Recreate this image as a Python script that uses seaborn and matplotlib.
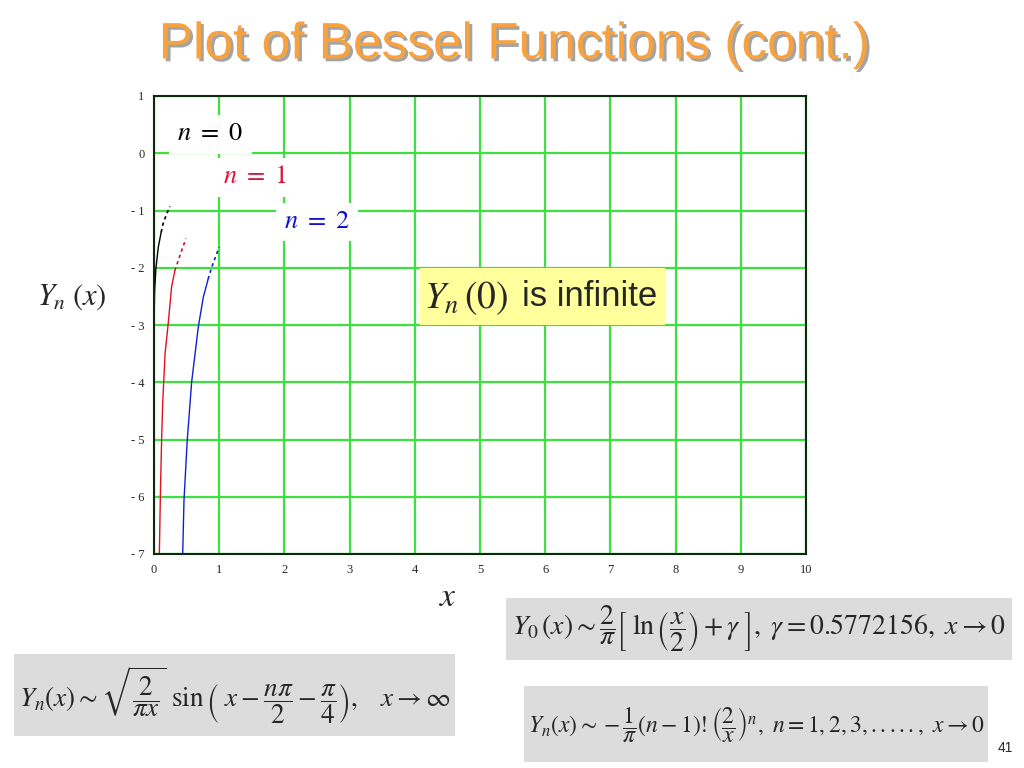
import numpy as np
import pandas as pd
import matplotlib
matplotlib.use("Agg")
import matplotlib.pyplot as plt
import matplotlib.patheffects as pe
from matplotlib.patches import Rectangle
import seaborn as sns

# values
y0_x = [0.0, 0.0, 0.003, 0.01, 0.03, 0.066, 0.11]
y0_y = [-7.0, -3.0, -2.8, -2.4, -2.0, -1.64, -1.38]
y0_tail_x = [0.11, 0.14, 0.19, 0.245]
y0_tail_y = [-1.38, -1.23, -1.07, -0.93]

y1_x = [0.082, 0.10, 0.118, 0.133, 0.17, 0.22, 0.27, 0.32]
y1_y = [-7.0, -5.83, -4.95, -4.37, -3.5, -2.95, -2.33, -2.05]
y1_tail_x = [0.32, 0.373, 0.43, 0.49]
y1_tail_y = [-2.05, -1.87, -1.68, -1.49]

y2_x = [0.44, 0.46, 0.51, 0.578, 0.68, 0.757, 0.83]
y2_y = [-7.0, -6.06, -5.01, -3.99, -3.03, -2.51, -2.2]
y2_tail_x = [0.83, 0.885, 0.94, 1.0]
y2_tail_y = [-2.2, -1.99, -1.82, -1.64]

x_ticks = [0, 1, 2, 3, 4, 5, 6, 7, 8, 9, 10]
y_ticks = [1, 0, -1, -2, -3, -4, -5, -6, -7]
y_tick_labels = ["1", "0", "- 1", "- 2", "- 3", "- 4", "- 5", "- 6", "- 7"]

sns.set_style("white")
plt.rcParams["mathtext.fontset"] = "stix"
plt.rcParams["font.family"] = ["Liberation Serif", "DejaVu Serif"]

fig = plt.figure(figsize=(10.24, 7.68), dpi=100)
ax = fig.add_axes([154 / 1024, 1 - 554 / 768, 652 / 1024, 458 / 768])

series = [
    (y0_x, y0_y, y0_tail_x, y0_tail_y, "black"),
    (y1_x, y1_y, y1_tail_x, y1_tail_y, "#e01020"),
    (y2_x, y2_y, y2_tail_x, y2_tail_y, "#1020d0"),
]
for xs, ys, tx, ty, col in series:
    df = pd.DataFrame({"x": xs, "y": ys})
    sns.lineplot(data=df, x="x", y="y", ax=ax, color=col, lw=1.0,
                 sort=False, estimator=None)
    dft = pd.DataFrame({"x": tx, "y": ty})
    sns.lineplot(data=dft, x="x", y="y", ax=ax, color=col, lw=1.2,
                 sort=False, estimator=None, linestyle=(0, (2, 2)))

ax.set_xlim(0, 10)
ax.set_ylim(-7, 1)
ax.set_xticks(x_ticks)
ax.set_xticklabels([str(t) for t in x_ticks])
ax.set_yticks(y_ticks)
ax.set_yticklabels(y_tick_labels)
ax.tick_params(length=0, labelsize=9, pad=7)
ax.grid(True, color="#3ee03e", lw=1.6)
ax.set_axisbelow(True)
for s in ax.spines.values():
    s.set_color("#0b2a0b")
    s.set_linewidth(1.5)
ax.set_xlabel("")
ax.set_ylabel("")

# curve labels
ax.text(0.86, 0.33, r"$n\ =\ 0$", fontsize=19, color="black", ha="center", va="center",
        bbox=dict(facecolor="white", edgecolor="none", pad=6))
ax.text(1.55, -0.42, r"$n\ =\ 1$", fontsize=19, color="#e0103a", ha="center", va="center",
        bbox=dict(facecolor="white", edgecolor="none", pad=6))
ax.text(2.5, -1.2, r"$n\ =\ 2$", fontsize=19, color="#1010d0", ha="center", va="center",
        bbox=dict(facecolor="white", edgecolor="none", pad=6))

# yellow note
fig.patches.append(Rectangle((420 / 1024, 1 - 325 / 768), 245 / 1024, 57 / 768,
                             transform=fig.transFigure, facecolor="#ffff9c",
                             edgecolor="none", zorder=5))
fig.text(424 / 1024, 1 - 298 / 768, r"$Y_n\,(0)$", fontsize=27, ha="left", va="center", zorder=6)
fig.text(522 / 1024, 1 - 296 / 768, "is infinite", fontsize=25, ha="left", va="center",
         family=["Liberation Sans", "DejaVu Sans"], zorder=6)

# axis labels
fig.text(72 / 1024, 1 - 297 / 768, r"$Y_n\;(x)$", fontsize=22, ha="center", va="center")
fig.text(448 / 1024, 1 - 598 / 768, r"$x$", fontsize=24, ha="center", va="center")

# title
fig.text(514 / 1024, 1 - 45 / 768, "Plot of Bessel Functions (cont.)", fontsize=37,
         color="#f7a23f", ha="center", va="center", family=["Liberation Sans", "DejaVu Sans"],
         path_effects=[pe.withSimplePatchShadow(offset=(2, -2), shadow_rgbFace="#999999", alpha=0.9)])

# formula boxes
boxes = [
    ((506, 598, 506, 62), r"$Y_0\,(x) \sim \dfrac{2}{\pi}\left[\;\ln\left(\dfrac{x}{2}\right)+\gamma\;\right],\ \gamma = 0.5772156,\ x \rightarrow 0$", 20),
    ((524, 686, 464, 76), r"$Y_n(x) \sim -\dfrac{1}{\pi}(n-1)!\left(\dfrac{2}{x}\right)^n,\ n = 1,2,3,.....,\ x \rightarrow 0$", 17),
    ((14, 654, 441, 82), r"$Y_n(x) \sim \sqrt{\dfrac{2}{\pi x}}\ \sin\left(\ x-\dfrac{n\pi}{2}-\dfrac{\pi}{4}\right),\quad x \rightarrow \infty$", 19.5),
]
for (bx, by, bw, bh), txt, fs in boxes:
    fig.patches.append(Rectangle((bx / 1024, 1 - (by + bh) / 768), bw / 1024, bh / 768,
                                 transform=fig.transFigure, facecolor="#dcdcdc",
                                 edgecolor="none"))
    fig.text((bx + bw / 2) / 1024, 1 - (by + bh / 2) / 768, txt, fontsize=fs,
             ha="center", va="center")

fig.text(1005 / 1024, 1 - 748 / 768, "41", fontsize=10, ha="center", va="center",
         family=["Liberation Sans", "DejaVu Sans"])

fig.savefig("out.png", dpi=100)
